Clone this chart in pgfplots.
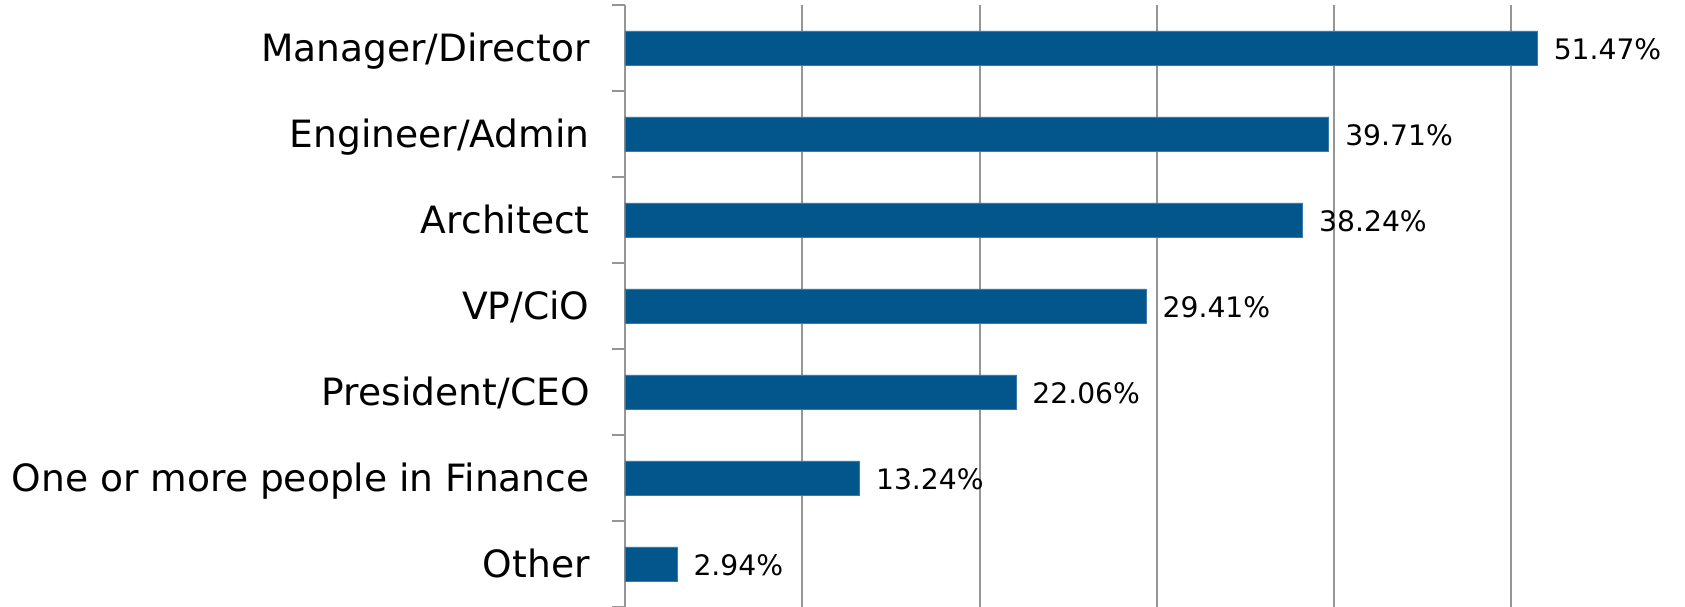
\documentclass[border=0pt]{standalone}
\usepackage{fontspec}
\setmainfont{DejaVu Sans}
\usepackage{pgfplots}
\pgfplotsset{compat=1.18}
\definecolor{barblue}{RGB}{2,86,139}
\definecolor{baredge}{RGB}{60,120,170}
\definecolor{gridgray}{RGB}{150,150,150}
\begin{document}
\begin{tikzpicture}
\begin{axis}[name=ax,
  xbar, scale only axis, width=530pt, height=301pt,
  xmin=0, xmax=59.8, ymin=-0.5, ymax=6.5, y dir=reverse,
  bar width=17pt, clip=false,
  axis lines*=left,
  x axis line style={draw=none},
  y axis line style={draw=gridgray, line width=1pt},
  xtick={0,10,...,50}, xticklabels={},
  xmajorgrids, major x grid style={draw=gridgray, line width=1pt},
  x tick style={draw=none},
  ytick={0,1,2,3,4,5,6},
  yticklabels={Manager/Director,Engineer/Admin,Architect,VP/CiO,President/CEO,One or more people in Finance,Other},
  minor ytick={-0.5,0.5,1.5,2.5,3.5,4.5,5.5,6.5},
  tick align=outside,
  major tick length=0pt, minor tick length=6.5pt,
  y tick style={draw=gridgray, line width=1pt},
  yticklabel style={font=\fontsize{18.8}{20}\selectfont, anchor=base east, inner sep=0pt, xshift=-17.5pt, yshift=-7pt, text=black},
  nodes near coords,
  point meta=explicit symbolic,
  every node near coord/.append style={font=\fontsize{14.1}{15}\selectfont, anchor=base west, inner sep=0pt, xshift=8pt, yshift=-5.8pt, text=black},
]
\addplot[fill=barblue, draw=baredge, line width=0.4pt] coordinates {
  (51.47,0) [51.47\%]
  (39.71,1) [39.71\%]
  (38.24,2) [38.24\%]
  (29.41,3) [29.41\%]
  (22.06,4) [22.06\%]
  (13.24,5) [13.24\%]
  (2.94,6) [2.94\%]
};
\end{axis}
\pgfresetboundingbox
\path[use as bounding box] ([xshift=-312.5pt]ax.south west) rectangle ([yshift=2.5pt]ax.north east);
\end{tikzpicture}
\end{document}
